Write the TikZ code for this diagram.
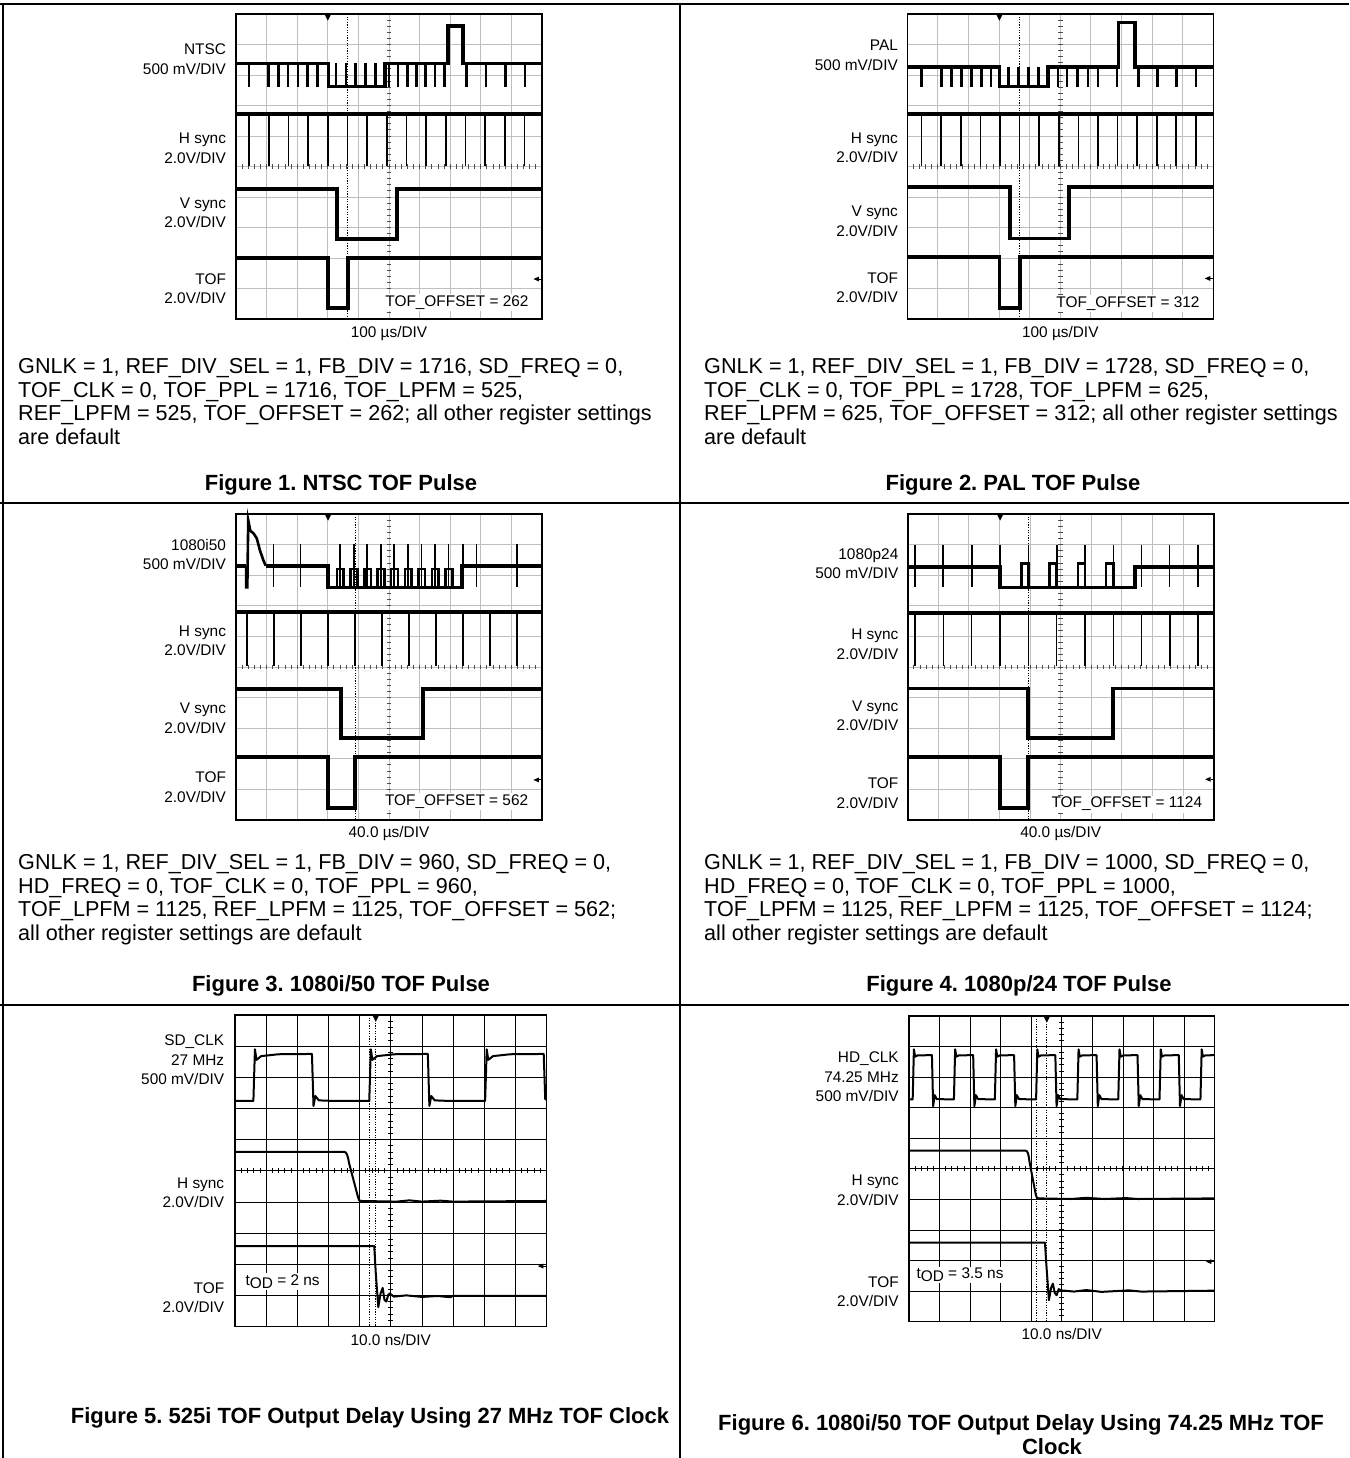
\documentclass[tikz,border=0pt]{standalone}
\usepackage{fontspec}
\setmainfont{Liberation Sans}
\usetikzlibrary{positioning}
\frenchspacing

\tikzset{
	rule/.style={line width=1.5pt},
	screen/.style={line width=1.6pt},
	grat/.style={line width=0.9pt, black!25},
	gratdark/.style={line width=0.7pt, black},
	tickgrey/.style={line width=0.9pt, black!70},
	tickblack/.style={line width=0.8pt, black},
	trace/.style={line width=3.8pt},
	video/.style={line width=2.6pt},
	pulse/.style={line width=1.6pt},
	clk/.style={line width=2pt, line join=round},
	cursor/.style={line width=0.9pt, dash pattern=on 1.2pt off 1.4pt},
	chlabel/.style={anchor=east, align=right, inner sep=0pt, font=\fontsize{15.4}{19.5}\selectfont},
	divlabel/.style={inner sep=0pt, font=\fontsize{15.4}{18}\selectfont},
	offset/.style={fill=white, inner sep=1.5pt, font=\fontsize{15.4}{18}\selectfont},
	regtext/.style={anchor=north west, align=left, inner sep=0pt, font=\fontsize{21.6}{23.8}\selectfont},
	figcap/.style={inner sep=0pt, font=\bfseries\fontsize{22}{23.8}\selectfont},
}

% graticule of one screen, 10 x 10 divisions
\newcommand{\screengrid}[2]{%
	\draw[#1] \foreach \i in {1,...,9} {(\i,0) -- (\i,10) (0,\i) -- (10,\i)};
	\draw[#2] \foreach \i in {1,...,49} {(4.925,\i/5) -- (5.075,\i/5) (\i/5,4.925) -- (\i/5,5.075)};
}
\newcommand{\trigmark}[1]{\fill (#1-0.11,0) -- (#1+0.11,0) -- (#1,0.22) -- cycle;}
\newcommand{\refmark}[1]{\fill (9.72,#1) -- (9.9,#1-0.08) -- (9.9,#1+0.08) -- cycle; \draw[line width=1pt] (9.9,#1) -- (10,#1);}

\begin{document}
\begin{tikzpicture}[x=1pt, y=-1pt]
	\useasboundingbox (0,0) rectangle (1349,1458);

	% table rules
	\draw[rule] (0,4) -- (1349,4);
	\draw[rule] (0,503) -- (1349,503);
	\draw[rule] (0,1005) -- (1349,1005);
	\draw[rule] (3,4) -- (3,1458);
	\draw[rule] (680,4) -- (680,1458);

	% NTSC
	\begin{scope}[shift={(236pt,-14pt)}, x=30.6pt, y=-30.5pt]
		\screengrid{grat}{tickgrey}
		\draw[trace] (0,1.62) -- (3.02,1.62) -- (3.02,2.38) -- (4.87,2.38) -- (4.87,1.62) -- (6.92,1.62) -- (6.92,0.4) -- (7.43,0.4) -- (7.43,1.62) -- (10,1.62);
		\draw[video] \foreach \p in {0.43,1.06,1.38,1.7,2.02,2.34,2.66,5.0,5.3,5.6,5.9,6.2,6.5,6.82,7.53,8.17,8.81,9.44} {(\p,1.62) -- (\p,2.38)};
		\draw[video] \foreach \p in {3.27,3.59,3.91,4.23,4.55} {(\p,2.38) -- (\p,1.62)};
		\draw[trace] (0,3.28) -- (10,3.28);
		\draw[pulse] \foreach \k in {0,...,14} {({0.43+0.643*\k},3.28) -- ({0.43+0.643*\k},5)};
		\draw[trace] (0,5.74) -- (3.31,5.74) -- (3.31,7.37) -- (5.25,7.37) -- (5.25,5.74) -- (10,5.74);
		\draw[trace] (0,8.01) -- (3.01,8.01) -- (3.01,9.63) -- (3.65,9.63) -- (3.65,8.01) -- (10,8.01);
		\draw[cursor] (3.63,0) -- (3.63,10);
		\trigmark{3.0}
		\refmark{8.69}
		\node[offset] (ntsc-off) at (7.22,9.47) {TOF\_OFFSET = 262};
		\draw[screen] (0,0) rectangle (10,10);
		\node[chlabel] (ntsc-vid) at (-0.32,1.48) {NTSC\\500 mV/DIV};
		\node[chlabel] (ntsc-hs) at (-0.32,4.41) {H sync\\2.0V/DIV};
		\node[chlabel] (ntsc-vs) at (-0.32,6.51) {V sync\\2.0V/DIV};
		\node[chlabel] (ntsc-tof) at (-0.32,9.0) {TOF\\2.0V/DIV};
		\node[divlabel] (ntsc-div) at (5,10.47) {100 µs/DIV};
	\end{scope}

	% PAL
	\begin{scope}[shift={(907.3pt,-14pt)}, x=30.6pt, y=-30.5pt]
		\screengrid{grat}{tickgrey}
		\draw[trace] (0,1.75) -- (3.01,1.75) -- (3.01,2.38) -- (4.61,2.38) -- (4.61,1.75) -- (6.9,1.75) -- (6.9,0.28) -- (7.44,0.28) -- (7.44,1.75) -- (10,1.75);
		\draw[video] \foreach \p in {0.47,1.12,1.44,1.78,2.1,2.42,2.74,4.93,5.22,5.56,5.9,6.23,6.85,7.55,8.18,8.8,9.43} {(\p,1.75) -- (\p,2.38)};
		\draw[video] \foreach \p in {3.3,3.63,3.96,4.28} {(\p,2.38) -- (\p,1.75)};
		\draw[trace] (0,3.28) -- (10,3.28);
		\draw[pulse] \foreach \k in {0,...,14} {({0.47+0.64*\k},3.28) -- ({0.47+0.64*\k},5)};
		\draw[trace] (0,5.66) -- (3.36,5.66) -- (3.36,7.36) -- (5.29,7.36) -- (5.29,5.66) -- (10,5.66);
		\draw[trace] (0,7.98) -- (3.01,7.98) -- (3.01,9.63) -- (3.68,9.63) -- (3.68,7.98) -- (10,7.98);
		\draw[cursor] (3.66,0) -- (3.66,10);
		\trigmark{3.01}
		\refmark{8.67}
		\node[offset] (pal-off) at (7.21,9.5) {TOF\_OFFSET = 312};
		\draw[screen] (0,0) rectangle (10,10);
		\node[chlabel] (pal-vid) at (-0.3,1.36) {PAL\\500 mV/DIV};
		\node[chlabel] (pal-hs) at (-0.3,4.39) {H sync\\2.0V/DIV};
		\node[chlabel] (pal-vs) at (-0.3,6.79) {V sync\\2.0V/DIV};
		\node[chlabel] (pal-tof) at (-0.3,8.98) {TOF\\2.0V/DIV};
		\node[divlabel] (pal-div) at (5,10.47) {100 µs/DIV};
	\end{scope}

	% 1080i50
	\begin{scope}[shift={(236pt,-514pt)}, x=30.6pt, y=-30.6pt]
		\screengrid{grat}{tickgrey}
		\draw[trace] (0,1.69) -- (0.33,1.69) (0.97,1.69) -- (3.0,1.69) -- (3.0,2.4) -- (7.38,2.4) -- (7.38,1.69) -- (10,1.69);
		\draw[video] (0.33,1.69) -- (0.33,2.4) -- (0.37,2.4) -- (0.4,0.2) -- (0.47,0.55) -- (0.57,0.63) -- (0.63,0.72) -- (0.68,0.8) -- (0.78,1.18) -- (0.89,1.5) -- (0.97,1.69);
		\draw[video] \foreach \c in {3.4,3.85,4.29,4.73,5.17,5.62,6.06,6.5,6.95} {(\c-0.1,2.4) -- (\c-0.1,1.8) -- (\c+0.12,1.8) -- (\c+0.12,2.4)};
		\draw[pulse] \foreach \c in {1.22,2.11,3.4,3.85,4.29,4.73,5.17,5.62,6.06,6.5,6.95,7.42,7.86,9.19} {(\c,0.99) -- (\c,2.4)};
		\draw[trace] (0,3.21) -- (10,3.21);
		\draw[pulse] \foreach \k in {0,...,10} {({0.35+0.884*\k},3.21) -- ({0.35+0.884*\k},4.96)};
		\draw[trace] (0,5.72) -- (3.42,5.72) -- (3.42,7.31) -- (6.12,7.31) -- (6.12,5.72) -- (10,5.72);
		\draw[trace] (0,7.95) -- (3.01,7.95) -- (3.01,9.62) -- (3.89,9.62) -- (3.89,7.95) -- (10,7.95);
		\draw[cursor] (3.89,0) -- (3.89,10);
		\trigmark{3.01}
		\refmark{8.69}
		\node[offset] (fi-off) at (7.21,9.4) {TOF\_OFFSET = 562};
		\draw[screen] (0,0) rectangle (10,10);
		\node[chlabel] (fi-vid) at (-0.32,1.32) {1080i50\\500 mV/DIV};
		\node[chlabel] (fi-hs) at (-0.32,4.15) {H sync\\2.0V/DIV};
		\node[chlabel] (fi-vs) at (-0.32,6.68) {V sync\\2.0V/DIV};
		\node[chlabel] (fi-tof) at (-0.32,8.92) {TOF\\2.0V/DIV};
		\node[divlabel] (fi-div) at (5,10.45) {40.0 µs/DIV};
	\end{scope}

	% 1080p24
	\begin{scope}[shift={(907.7pt,-514pt)}, x=30.6pt, y=-30.6pt]
		\screengrid{grat}{tickgrey}
		\draw[trace] (0,1.72) -- (3.02,1.72) -- (3.02,2.4) -- (7.43,2.4) -- (7.43,1.72) -- (10,1.72);
		\draw[video] \foreach \c in {3.95,4.87,5.8,6.72} {(\c-0.24,2.4) -- (\c-0.24,1.62) -- (\c,1.62) -- (\c,2.4)};
		\draw[pulse] \foreach \c in {0.24,1.16,2.1,3.02,3.95,4.87,5.8,6.72,7.64,8.56,9.49} {(\c,1.01) -- (\c,2.4)};
		\draw[trace] (0,3.24) -- (10,3.24);
		\draw[pulse] \foreach \k in {0,...,10} {({0.24+0.9255*\k},3.24) -- ({0.24+0.9255*\k},4.96)};
		\draw[trace] (0,5.7) -- (3.92,5.7) -- (3.92,7.31) -- (6.72,7.31) -- (6.72,5.7) -- (10,5.7);
		\draw[trace] (0,7.95) -- (3.02,7.95) -- (3.02,9.62) -- (3.94,9.62) -- (3.94,7.95) -- (10,7.95);
		\draw[cursor] (3.95,0) -- (3.95,10);
		\trigmark{3.02}
		\refmark{8.67}
		\node[offset] (fp-off) at (7.16,9.48) {TOF\_OFFSET = 1124};
		\draw[screen] (0,0) rectangle (10,10);
		\node[chlabel] (fp-vid) at (-0.3,1.63) {1080p24\\500 mV/DIV};
		\node[chlabel] (fp-hs) at (-0.3,4.25) {H sync\\2.0V/DIV};
		\node[chlabel] (fp-vs) at (-0.3,6.6) {V sync\\2.0V/DIV};
		\node[chlabel] (fp-tof) at (-0.3,9.12) {TOF\\2.0V/DIV};
		\node[divlabel] (fp-div) at (5,10.45) {40.0 µs/DIV};
	\end{scope}

	% SD clock delay
	\begin{scope}[shift={(235pt,-1015pt)}, x=31.15pt, y=-31.15pt]
		\screengrid{gratdark}{tickblack}
		\draw[clk] (0,2.76) \foreach \r in {0.59,4.31} {-- (\r,2.76) -- (\r+0.05,1.1) -- (\r+0.1,1.44) -- (\r+0.25,1.32) -- (\r+0.8,1.26) -- (\r+1.88,1.25) -- (\r+1.93,2.92) -- (\r+1.99,2.6) -- (\r+2.1,2.74) -- (\r+2.6,2.76)} -- (8.03,2.76) -- (8.08,1.1) -- (8.13,1.44) -- (8.28,1.32) -- (8.83,1.26) -- (9.91,1.25) -- (9.96,2.7) -- (10,2.72);
		\draw[clk] (0,4.39) -- (3.5,4.39) .. controls (3.58,4.39) and (3.62,4.5) .. (3.66,4.75) -- (3.95,5.85) .. controls (3.97,5.95) and (3.99,5.97) .. (4.05,5.97) -- (5.2,5.99) -- (5.6,5.95) -- (6.0,5.99) -- (6.6,5.96) -- (7.0,5.99) -- (10,5.97);
		\draw[clk] (0,7.42) -- (4.47,7.42) -- (4.52,8.3) -- (4.6,9.38) -- (4.67,8.95) -- (4.74,8.76) -- (4.8,9.15) -- (4.86,9.2) -- (4.92,8.98) -- (4.97,8.94) -- (5.1,9.04) -- (5.5,9.0) -- (6.0,9.05) -- (6.5,9.02) -- (6.9,9.06) -- (7.0,9.02) -- (10,9.02);
		\draw[cursor] (4.31,0) -- (4.31,10);
		\draw[cursor] (4.52,0) -- (4.52,10);
		\trigmark{4.52}
		\refmark{8.06}
		\node[offset] (sd-tod) at (1.53,8.56) {t\raisebox{-0.35ex}{OD} = 2 ns};
		\draw[screen] (0,0) rectangle (10,10);
		\node[chlabel] (sd-clk) at (-0.34,1.44) {SD\_CLK\\27 MHz\\500 mV/DIV};
		\node[chlabel] (sd-hs) at (-0.34,5.7) {H sync\\2.0V/DIV};
		\node[chlabel] (sd-tof) at (-0.34,9.07) {TOF\\2.0V/DIV};
		\node[divlabel] (sd-div) at (5,10.42) {10.0 ns/DIV};
	\end{scope}

	% HD clock delay
	\begin{scope}[shift={(909pt,-1016pt)}, x=30.55pt, y=-30.55pt]
		\screengrid{gratdark}{tickblack}
		\draw[clk] (0,2.73) \foreach \r in {0.12,1.47,2.81,4.16,5.51,6.85,8.2} {-- (\r,2.73) -- (\r+0.04,1.09) -- (\r+0.08,1.33) -- (\r+0.16,1.29) -- (\r+0.63,1.28) -- (\r+0.67,2.95) -- (\r+0.72,2.59) -- (\r+0.79,2.72) -- (\r+1.3,2.73)} -- (9.54,2.73) -- (9.58,1.09) -- (9.62,1.33) -- (9.7,1.29) -- (10,1.28);
		\draw[clk] (0,4.41) -- (3.82,4.41) .. controls (3.88,4.41) and (3.91,4.5) .. (3.94,4.75) -- (4.15,5.85) .. controls (4.17,5.95) and (4.19,5.97) .. (4.25,5.97) -- (5.3,5.99) -- (5.8,5.95) -- (6.4,5.99) -- (7.1,5.96) -- (7.5,5.99) -- (10,5.97);
		\draw[clk] (0,7.42) -- (4.45,7.42) -- (4.5,8.2) -- (4.58,9.3) -- (4.65,8.9) -- (4.71,8.76) -- (4.77,9.06) -- (4.83,9.14) -- (4.9,8.94) -- (4.98,8.98) -- (5.4,9.02) -- (5.8,8.97) -- (6.3,9.03) -- (7.2,8.98) -- (7.6,9.02) -- (10,8.99);
		\draw[cursor] (4.16,0) -- (4.16,10);
		\draw[cursor] (4.51,0) -- (4.51,10);
		\trigmark{4.51}
		\refmark{8.04}
		\node[offset] (hd-tod) at (1.67,8.48) {t\raisebox{-0.35ex}{OD} = 3.5 ns};
		\draw[screen] (0,0) rectangle (10,10);
		\node[chlabel] (hd-clk) at (-0.33,2.0) {HD\_CLK\\74.25 MHz\\500 mV/DIV};
		\node[chlabel] (hd-hs) at (-0.33,5.71) {H sync\\2.0V/DIV};
		\node[chlabel] (hd-tof) at (-0.33,9.02) {TOF\\2.0V/DIV};
		\node[divlabel] (hd-div) at (5,10.4) {10.0 ns/DIV};
	\end{scope}

	% register settings and captions
	\node[regtext] (ntsc-regs) at (18,358) {GNLK = 1, REF\_DIV\_SEL = 1, FB\_DIV = 1716, SD\_FREQ = 0,\\TOF\_CLK = 0, TOF\_PPL = 1716, TOF\_LPFM = 525,\\REF\_LPFM = 525, TOF\_OFFSET = 262; all other register settings\\are default};
	\node[figcap] (ntsc-cap) at (341,485) {Figure 1. NTSC TOF Pulse};
	\node[regtext] (pal-regs) at (704,358) {GNLK = 1, REF\_DIV\_SEL = 1, FB\_DIV = 1728, SD\_FREQ = 0,\\TOF\_CLK = 0, TOF\_PPL = 1728, TOF\_LPFM = 625,\\REF\_LPFM = 625, TOF\_OFFSET = 312; all other register settings\\are default};
	\node[figcap] (pal-cap) at (1013,485) {Figure 2. PAL TOF Pulse};
	\node[regtext] (fi-regs) at (18,854) {GNLK = 1, REF\_DIV\_SEL = 1, FB\_DIV = 960, SD\_FREQ = 0,\\HD\_FREQ = 0, TOF\_CLK = 0, TOF\_PPL = 960,\\TOF\_LPFM = 1125, REF\_LPFM = 1125, TOF\_OFFSET = 562;\\all other register settings are default};
	\node[figcap] (fi-cap) at (341,986) {Figure 3. 1080i/50 TOF Pulse};
	\node[regtext] (fp-regs) at (704,854) {GNLK = 1, REF\_DIV\_SEL = 1, FB\_DIV = 1000, SD\_FREQ = 0,\\HD\_FREQ = 0, TOF\_CLK = 0, TOF\_PPL = 1000,\\TOF\_LPFM = 1125, REF\_LPFM = 1125, TOF\_OFFSET = 1124;\\all other register settings are default};
	\node[figcap] (fp-cap) at (1019,986) {Figure 4. 1080p/24 TOF Pulse};
	\node[figcap] (sd-cap) at (370,1418) {Figure 5. 525i TOF Output Delay Using 27 MHz TOF Clock};
	\node[figcap] (hd-cap) at (1021,1425) {Figure 6. 1080i/50 TOF Output Delay Using 74.25 MHz TOF};
	\node[figcap] (hd-cap2) at (1052,1447) {Clock};
\end{tikzpicture}
\end{document}
